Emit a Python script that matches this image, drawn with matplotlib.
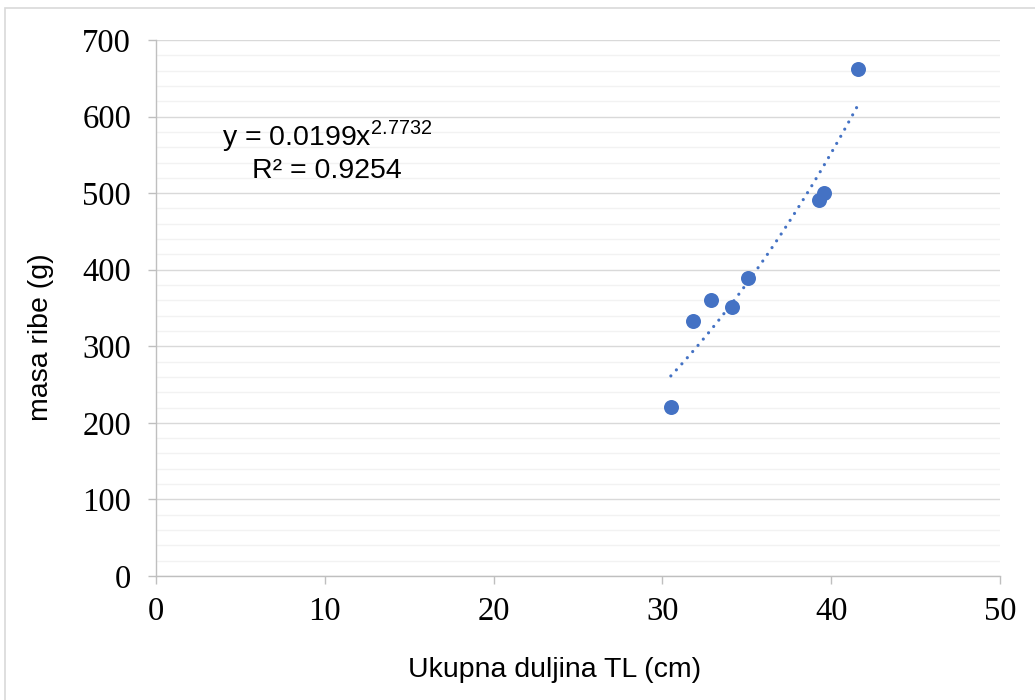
"""Scatter of fish mass vs total length with a power trendline"""
import matplotlib
matplotlib.use('Agg')
import matplotlib.pyplot as plt
import numpy as np
from matplotlib.patches import Rectangle
from matplotlib.ticker import MultipleLocator

# Data
duljina = [30.5, 31.8, 32.9, 34.1, 35.1, 39.3, 39.6, 41.6]   # Ukupna duljina TL (cm)
masa = [221, 333, 360, 351, 389, 491, 500, 662]              # masa ribe (g)
eq_text = r'y = 0.0199x$^{\mathregular{2.7732}}$'
r2_text = 'R² = 0.9254'

plt.rcParams['mathtext.fontset'] = 'custom'
plt.rcParams['mathtext.rm'] = 'Liberation Sans'

W, H = 1035, 700
fig = plt.figure(figsize=(W / 100, H / 100), dpi=100)

# Light frame round the chart area
fig.patches.append(Rectangle((5 / W, -0.05), 1.1, 1 - 8 / H + 0.05, transform=fig.transFigure,
                             fill=False, edgecolor='#d9d9d9', linewidth=1.2))

ax = fig.add_axes([156 / W, 1 - 576 / H, (1000 - 156) / W, (576 - 40) / H])

# Power trendline fitted in log space
b, log_a = np.polyfit(np.log(duljina), np.log(masa), 1)
x_fit = np.linspace(min(duljina), max(duljina), 200)
y_fit = np.exp(log_a) * x_fit ** b
ax.plot(x_fit, y_fit, color='#4472C4', linewidth=2.3, linestyle=(0, (0.01, 2.55)),
        dash_capstyle='round', zorder=2)

ax.plot(duljina, masa, 'o', color='#4472C4', markersize=10.8, markeredgewidth=0, zorder=3)

ax.set_xlim(0, 50)
ax.set_ylim(0, 700)
ax.xaxis.set_major_locator(MultipleLocator(10))
ax.yaxis.set_major_locator(MultipleLocator(100))
ax.yaxis.set_minor_locator(MultipleLocator(20))

ax.grid(True, axis='y', which='major', color='#d9d9d9', linewidth=1.0, zorder=0)
ax.grid(True, axis='y', which='minor', color='#f2f2f2', linewidth=1.0, zorder=0)
ax.set_axisbelow(True)

for side in ['top', 'right']:
    ax.spines[side].set_visible(False)
for side in ['left', 'bottom']:
    ax.spines[side].set_color('#bfbfbf')
    ax.spines[side].set_linewidth(1.0)

ax.tick_params(axis='both', which='major', color='#bfbfbf', length=6, width=1.0,
               labelsize=23.5, labelcolor='black')
ax.tick_params(axis='y', which='major', pad=12)
ax.tick_params(axis='x', which='major', pad=8.5)
ax.tick_params(which='minor', length=0)
for lbl in ax.get_xticklabels() + ax.get_yticklabels():
    lbl.set_fontfamily('Liberation Serif')

# Axis titles
fig.text(555 / W, 1 - 677 / H, 'Ukupna duljina TL (cm)', ha='center', va='baseline',
         fontsize=20.5, family='Liberation Sans')
fig.text(41 / W, 1 - 337 / H, 'masa ribe (g)', ha='center', va='center', rotation=90,
         fontsize=20.5, family='Liberation Sans')

# Trendline equation
fig.text(327 / W, 1 - 145 / H, eq_text, ha='center', va='baseline',
         fontsize=20.5, family='Liberation Sans')
fig.text(327 / W, 1 - 178 / H, r2_text, ha='center', va='baseline',
         fontsize=20.5, family='Liberation Sans')

fig.savefig('out.png', dpi=100)
